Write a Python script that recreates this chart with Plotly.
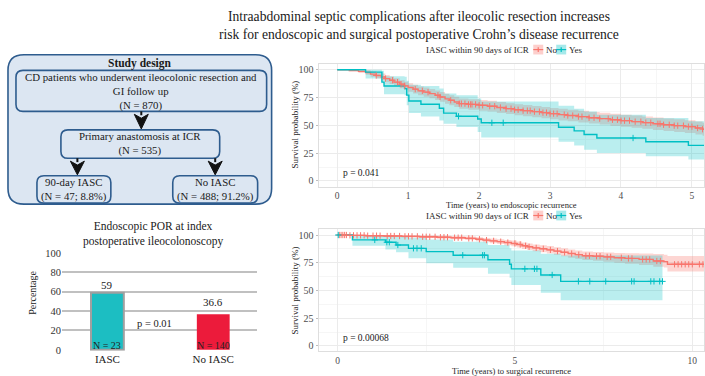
import numpy as np
import plotly.graph_objects as go

# ---------------- DATA ----------------
# Endoscopic recurrence KM (top right)
endo_no_t = [0, 0.17, 0.30, 0.40, 0.47, 0.55, 0.62, 0.68, 0.74, 0.80, 0.88, 0.95, 1.00, 1.07, 1.14, 1.22,
             1.30, 1.38, 1.45, 1.52, 1.58, 1.65, 1.72, 1.85, 2.00, 2.12, 2.25, 2.38, 2.50, 2.62, 2.75, 2.88,
             3.00, 3.12, 3.25, 3.40, 3.55, 3.70, 3.85, 4.00, 4.15, 4.30, 4.45, 4.60, 4.75, 4.90, 5.05, 5.15, 5.25]
endo_no_s = [100, 99.3, 98.5, 97.5, 96, 94.8, 93.5, 92, 90.5, 88.8, 87, 85.5, 84, 82.5, 81, 79.8,
             78.5, 77, 75.5, 73.8, 72.5, 71, 69.5, 68.8, 68, 67.2, 66, 65, 64, 63.2, 62.3, 61.4,
             60.5, 59.6, 58.8, 57.8, 56.8, 56, 55, 54.2, 53.3, 52.4, 51.4, 50.5, 49.7, 48.8, 47.6, 46.5, 46]
endo_no_hi = [100, 100, 100, 99.5, 98.5, 97.5, 96.5, 95.2, 93.8, 92.3, 90.6, 89.2, 87.8, 86.4, 85, 83.9,
              82.7, 81.3, 79.9, 78.3, 77, 75.6, 74.2, 73.5, 72.8, 72, 70.9, 69.9, 69, 68.2, 67.3, 66.5,
              65.6, 64.8, 64, 63, 62, 61.3, 60.4, 59.6, 58.8, 57.9, 57, 56.2, 55.4, 54.6, 53.4, 52.4, 52]
endo_no_lo = [100, 98.5, 97, 95.5, 93.6, 92.1, 90.5, 88.8, 87.2, 85.3, 83.4, 81.8, 80.2, 78.6, 77, 75.7,
              74.3, 72.7, 71.1, 69.3, 68, 66.4, 64.8, 64.1, 63.2, 62.4, 61.1, 60.1, 59, 58.2, 57.3, 56.3,
              55.4, 54.4, 53.6, 52.6, 51.6, 50.7, 49.6, 48.8, 47.8, 46.9, 45.8, 44.8, 44, 43, 41.8, 40.6, 40]
endo_no_cens = [0.55, 0.68, 0.78, 0.85, 0.9, 0.95, 1.1, 1.2, 1.28, 1.42, 1.45, 1.6, 1.72, 1.75, 1.8, 1.85,
                1.88, 1.9, 1.95, 2.0, 2.05, 2.15, 2.22, 2.3, 2.38, 2.45, 2.5, 2.55, 2.62, 2.68, 2.72, 2.78,
                2.85, 2.9, 2.95, 3.0, 3.05, 3.1, 3.2, 3.25, 3.32, 3.4, 3.45, 3.55, 3.62, 3.7, 3.82, 3.88,
                3.95, 4.0, 4.05, 4.12, 4.2, 4.28, 4.35, 4.42, 4.52, 4.55, 4.6, 4.68, 4.75, 4.8, 4.88, 4.95,
                5.0, 5.08, 5.15]

endo_yes_t = [0, 0.40, 0.63, 0.66, 0.95, 0.98, 1.01, 1.18, 1.44, 1.50, 1.68, 1.98, 2.03, 3.12, 3.34,
              3.48, 3.66, 4.35, 4.95, 5.25]
endo_yes_s = [100, 97.8, 88.8, 85.3, 83.0, 77.1, 71.9, 69.0, 65.4, 61.0, 58.1, 55.7, 52.3, 48.3, 45.0,
              41.8, 38.6, 35.3, 32.0, 32.0]
endo_yes_hi = [100, 100, 99, 94, 93.7, 90, 86.5, 85.3, 83, 78.6, 77, 74, 71.5, 67.7, 65,
               62.5, 59.6, 56.6, 53.7, 53.7]
endo_yes_lo = [100, 92, 88.8, 78, 77.1, 68, 61, 58, 54.4, 51.4, 48.5, 44, 39.1, 35.3, 31.8,
               28.0, 25.1, 22.2, 19.3, 19.3]
endo_yes_cens = [1.71, 2.18, 2.34, 4.17]

# Surgical recurrence KM (bottom right)
surg_no_t = [0, 0.3, 0.8, 1.3, 1.8, 2.3, 2.8, 3.2, 3.6, 3.9, 4.1, 4.3, 4.5, 4.7, 4.9, 5.05, 5.2, 5.35,
             5.5, 5.7, 5.9, 6.1, 6.3, 6.5, 6.7, 6.9, 7.2, 7.5, 7.8, 8.1, 8.5, 8.9, 9.2, 9.3, 10.4]
surg_no_s = [100, 99.7, 99.4, 99.1, 98.8, 98.4, 98, 97.6, 97, 96.2, 95.4, 94.7, 94, 93.2, 92.4, 91.5,
             90.3, 89.4, 88.4, 87.6, 86.6, 85.5, 84.4, 83.3, 82.3, 81.3, 80.9, 80.3, 79.5, 78.9, 78.0,
             76.6, 76.0, 73.6, 73.6]
surg_no_hi = [100, 100, 100, 100, 99.8, 99.6, 99.3, 99, 98.6, 98, 97.4, 96.8, 96.2, 95.6, 95, 94.2,
              93.2, 92.4, 91.5, 90.8, 90.0, 89.0, 88.0, 87.0, 86.1, 85.2, 84.8, 84.3, 83.8, 83.5, 83.3,
              82.8, 82.3, 81.0, 81.0]
surg_no_lo = [100, 99.2, 98.7, 98.2, 97.7, 97.2, 96.6, 96.1, 95.4, 94.4, 93.4, 92.6, 91.8, 90.8, 89.8,
              88.8, 87.4, 86.4, 85.3, 84.4, 83.3, 82.1, 80.8, 79.6, 78.5, 77.4, 76.8, 76.0, 75.0, 74.2,
              73.0, 71.5, 70.8, 67.2, 67.2]
surg_no_cens = [0.05, 0.1, 0.15, 0.2, 0.25, 0.35, 0.45, 0.55, 0.65, 0.75, 0.85, 1.0, 1.1, 1.2, 1.4,
                1.5, 1.6, 1.75, 1.9, 2.0, 2.1, 2.25, 2.4, 2.5, 2.6, 2.75, 2.9, 3.0, 3.1, 3.3, 3.4, 3.5,
                3.7, 3.8, 4.0, 4.2, 4.4, 4.6, 4.8, 5.0, 5.15, 5.3, 5.4, 5.6, 5.8, 6.0, 6.2, 6.4, 6.6,
                6.8, 7.0, 7.1, 7.3, 7.4, 7.6, 7.7, 8.0, 8.2, 8.3, 8.6, 8.7, 8.8, 9.0, 9.1, 9.5, 9.6,
                9.7, 9.8, 9.9, 10.0, 10.2, 10.3]

surg_yes_t = [0, 0.42, 1.35, 1.65, 2.0, 2.5, 3.26, 4.24, 4.85, 4.9, 5.73, 6.29, 9.16]
surg_yes_s = [100, 95.6, 93.5, 91.0, 88.0, 85.0, 81.8, 77.7, 73.7, 69.5, 64.0, 58.2, 58.2]
surg_yes_hi = [100, 100, 99.5, 98.5, 97.5, 96, 94, 91, 88, 86, 83, 81.5, 81.5]
surg_yes_lo = [100, 90.4, 87, 84.5, 79, 74.5, 70.5, 65, 61.5, 55, 48, 41.2, 41.2]
surg_yes_cens = [0.02, 1.05, 1.39, 1.46, 1.70, 2.14, 2.24, 2.36, 3.53, 4.09, 4.14, 5.28, 5.55, 5.62,
                 6.05, 6.79, 7.11, 7.56, 8.29, 8.36, 8.83, 8.92, 9.08, 9.16]

# Bar chart (bottom left)
bar_cats = ["IASC", "No IASC"]
bar_vals = [59, 36.6]
bar_labels = ["59", "36.6"]
bar_n = ["N = 23", "N = 140"]

# ---------------- LAYOUT HELPERS ----------------
W, H = 705, 376
FONT = "Liberation Serif"
RED, TEAL = "#F8766D", "#00BFC4"
RED_FILL, TEAL_FILL = "rgba(248,118,109,0.30)", "rgba(0,191,196,0.27)"


def X(p):
    return p / W


def Y(p):
    return 1 - p / H


annotations = []
shapes = []


def ann(text, x, y, size=11, color="#1a1a1a", xanchor="center", **kw):
    annotations.append(dict(text=text, x=X(x), y=Y(y), xref="paper", yref="paper",
                            xanchor=xanchor, yanchor="middle", showarrow=False,
                            font=dict(family=FONT, size=size, color=color), **kw))


def rrect(x0, y0, x1, y1, r, fill, line):
    p = (f"M {X(x0 + r)},{Y(y0)} L {X(x1 - r)},{Y(y0)} Q {X(x1)},{Y(y0)} {X(x1)},{Y(y0 + r)} "
         f"L {X(x1)},{Y(y1 - r)} Q {X(x1)},{Y(y1)} {X(x1 - r)},{Y(y1)} "
         f"L {X(x0 + r)},{Y(y1)} Q {X(x0)},{Y(y1)} {X(x0)},{Y(y1 - r)} "
         f"L {X(x0)},{Y(y0 + r)} Q {X(x0)},{Y(y0)} {X(x0 + r)},{Y(y0)} Z")
    shapes.append(dict(type="path", path=p, xref="paper", yref="paper", fillcolor=fill,
                       line=dict(color=line, width=1.6), layer="below"))


def arrow(xc, y0, y1):
    shapes.append(dict(type="line", x0=X(xc), x1=X(xc), y0=Y(y0), y1=Y(y0 + 4), xref="paper",
                       yref="paper", line=dict(color="#111", width=2)))
    p = (f"M {X(xc - 7)},{Y(y0 + 3)} L {X(xc)},{Y(y0 + 7)} L {X(xc + 7)},{Y(y0 + 3)} "
         f"L {X(xc)},{Y(y1)} Z")
    shapes.append(dict(type="path", path=p, xref="paper", yref="paper", fillcolor="#111",
                       line=dict(color="#111", width=1)))


def step_at(ts, ss, t):
    i = int(np.searchsorted(np.array(ts), t, side="right")) - 1
    return ss[max(i, 0)]


fig = go.Figure()


def add_km(xa, ya, groups):
    for t, s, lo, hi, cens, col, fc in groups:
        fig.add_trace(go.Scatter(x=t, y=hi, mode="lines", line=dict(width=0, shape="hv"),
                                 xaxis=xa, yaxis=ya, showlegend=False, hoverinfo="skip"))
        fig.add_trace(go.Scatter(x=t, y=lo, mode="lines", line=dict(width=0, shape="hv"),
                                 fill="tonexty", fillcolor=fc, xaxis=xa, yaxis=ya,
                                 showlegend=False, hoverinfo="skip"))
    for t, s, lo, hi, cens, col, fc in groups:
        fig.add_trace(go.Scatter(x=t, y=s, mode="lines", line=dict(width=1.4, shape="hv", color=col),
                                 xaxis=xa, yaxis=ya, showlegend=False))
    for t, s, lo, hi, cens, col, fc in groups:
        fig.add_trace(go.Scatter(x=cens, y=[step_at(t, s, c) for c in cens], mode="markers",
                                 marker=dict(symbol="cross-thin", size=4.5, line=dict(color=col, width=1)),
                                 xaxis=xa, yaxis=ya, showlegend=False))


add_km("x", "y", [
    (endo_no_t, endo_no_s, endo_no_lo, endo_no_hi, endo_no_cens, RED, RED_FILL),
    (endo_yes_t, endo_yes_s, endo_yes_lo, endo_yes_hi, endo_yes_cens, TEAL, TEAL_FILL),
])
add_km("x2", "y2", [
    (surg_no_t, surg_no_s, surg_no_lo, surg_no_hi, surg_no_cens, RED, RED_FILL),
    (surg_yes_t, surg_yes_s, surg_yes_lo, surg_yes_hi, surg_yes_cens, TEAL, TEAL_FILL),
])

# bar chart
fig.add_trace(go.Bar(x=bar_cats, y=bar_vals, width=0.31, xaxis="x3", yaxis="y3",
                     marker=dict(color=["#1cbec2", "#ec1b3b"],
                                 line=dict(color=["#a0a0a0", "#ec1b3b"], width=[2, 0])),
                     showlegend=False))
for cat, v, lab, n, ys in zip(bar_cats, bar_vals, bar_labels, bar_n, [0, 4]):
    annotations.append(dict(text=lab, x=cat, y=v, xref="x3", yref="y3", yanchor="bottom",
                            yshift=ys, showarrow=False, font=dict(family=FONT, size=11, color="#1a1a1a")))
    annotations.append(dict(text=n, x=cat, y=0, xref="x3", yref="y3", yanchor="bottom",
                            yshift=-3, showarrow=False, font=dict(family=FONT, size=10, color="#222")))

# ---------------- TEXT ----------------
ann("Intraabdominal septic complications after ileocolic resection increases<br>"
    "risk for endoscopic and surgical postoperative Crohn\u2019s disease recurrence", 420, 22, 13.6)

# Study design diagram
rrect(8, 52, 272, 205, 16, "#dce6f2", "#2e5c8e")
rrect(16, 68, 267, 110, 7, "#dce6f2", "#2e5c8e")
rrect(61, 129, 220, 158, 7, "#dce6f2", "#2e5c8e")
rrect(37, 176, 111, 204, 7, "#dce6f2", "#2e5c8e")
rrect(173, 176, 258, 204, 7, "#dce6f2", "#2e5c8e")
arrow(141.5, 110, 128)
arrow(77.5, 158, 175)
arrow(215.5, 158, 175)
ann("<b>Study design</b>", 140, 60.5, 11.5)
ann("CD patients who underwent ileocolonic resection and<br>GI follow up<br>(N = 870)", 141.5, 89.5, 10.8)
ann("Primary anastomosis at ICR<br>(N = 535)", 140.5, 143, 10.8)
ann("90-day IASC<br>(N = 47; 8.8%)", 74, 190.5, 10.8)
ann("No IASC<br>(N = 488; 91.2%)", 215.5, 190.5, 10.8)

# Bar chart texts
ann("Endoscopic POR at index<br>postoperative ileocolonoscopy", 153, 235.5, 11.5)
ann("Percentage", 33, 296, 10, textangle=-90)
ann("p = 0.01", 155, 327, 10.5)

# KM texts
for yc, yleg, xt_y, xtitle in [
        (124, 46.7, 205.5, "Time (years) to endoscopic recurrence"),
        (294, 216.7, 375.5, "Time (years) to surgical recurrence")]:
    ann("Survival probability (%)", 295, yc, 9, color="#262626", textangle=-90)
    ann(xtitle, 512, xt_y, 8.5, color="#262626")
    ann("IASC within 90 days of ICR", 532, yleg, 9, color="#262626", xanchor="right")
    for (k0, col, fc, lab) in [(534, RED, "rgba(248,118,109,0.35)", "No"),
                               (557, TEAL, "rgba(0,191,196,0.35)", "Yes")]:
        shapes.append(dict(type="rect", x0=X(k0), x1=X(k0 + 10), y0=Y(yleg - 5), y1=Y(yleg + 5),
                           xref="paper", yref="paper", fillcolor=fc, line=dict(width=0)))
        shapes.append(dict(type="line", x0=X(k0), x1=X(k0 + 10), y0=Y(yleg), y1=Y(yleg),
                           xref="paper", yref="paper", line=dict(color=col, width=1.2)))
        shapes.append(dict(type="line", x0=X(k0 + 5), x1=X(k0 + 5), y0=Y(yleg - 2.5), y1=Y(yleg + 2.5),
                           xref="paper", yref="paper", line=dict(color=col, width=1.2)))
        ann(lab, k0 + 11, yleg, 9, color="#262626", xanchor="left")

annotations.append(dict(text="p = 0.041", x=0.05, y=7.5, xref="x", yref="y", xanchor="left",
                        showarrow=False, font=dict(family=FONT, size=9.5, color="#1a1a1a")))
annotations.append(dict(text="p = 0.00068", x=0.1, y=7.5, xref="x2", yref="y2", xanchor="left",
                        showarrow=False, font=dict(family=FONT, size=9.5, color="#1a1a1a")))

km_common = dict(showgrid=True, gridcolor="#ebebeb", gridwidth=1, zeroline=False, showline=True,
                 mirror=True, linecolor="#dedede", linewidth=1)
km_x = dict(ticks="", tickfont=dict(family=FONT, size=9.5, color="#4d4d4d"), **km_common)
km_y = dict(ticks="outside", ticklen=2, tickcolor="#bdbdbd",
            tickfont=dict(family=FONT, size=10, color="#4d4d4d"), **km_common)

fig.update_layout(
    width=W, height=H, margin=dict(l=0, r=0, t=0, b=0),
    paper_bgcolor="white", plot_bgcolor="white", showlegend=False,
    xaxis=dict(domain=[319 / W, 1], range=[-0.263, 5.17], tickvals=[0, 1, 2, 3, 4, 5], anchor="y",
               minor=dict(dtick=0.5, showgrid=True, gridcolor="#f6f6f6"), **km_x),
    yaxis=dict(domain=[1 - 187 / H, 1 - 61.6 / H], range=[-5, 105], tickvals=[0, 25, 50, 75, 100],
               anchor="x", minor=dict(dtick=12.5, showgrid=True, gridcolor="#f6f6f6"), **km_y),
    xaxis2=dict(domain=[319 / W, 1], range=[-0.535, 10.33], tickvals=[0, 5, 10], anchor="y2",
                minor=dict(dtick=2.5, showgrid=True, gridcolor="#f6f6f6"), **km_x),
    yaxis2=dict(domain=[1 - 356 / H, 1 - 231 / H], range=[-5, 105], tickvals=[0, 25, 50, 75, 100],
                anchor="x2", minor=dict(dtick=12.5, showgrid=True, gridcolor="#f6f6f6"), **km_y),
    xaxis3=dict(domain=[62 / W, 257 / W], range=[-0.43, 1.41], anchor="y3", showgrid=False,
                zeroline=False, showline=False, ticks="",
                tickfont=dict(family=FONT, size=11, color="#1a1a1a")),
    yaxis3=dict(domain=[1 - 355.3 / H, 1 - 254 / H], range=[-1, 101], anchor="x3",
                tickvals=[0, 20, 40, 60, 80, 100], showgrid=True, gridcolor="#c0c0c0", gridwidth=2,
                zeroline=False, ticks="", tickfont=dict(family=FONT, size=10.5, color="#333")),
    annotations=annotations, shapes=shapes,
)

fig.write_html("out.html", config={"displayModeBar": False},
               post_script="document.body.style.margin='0px';")
